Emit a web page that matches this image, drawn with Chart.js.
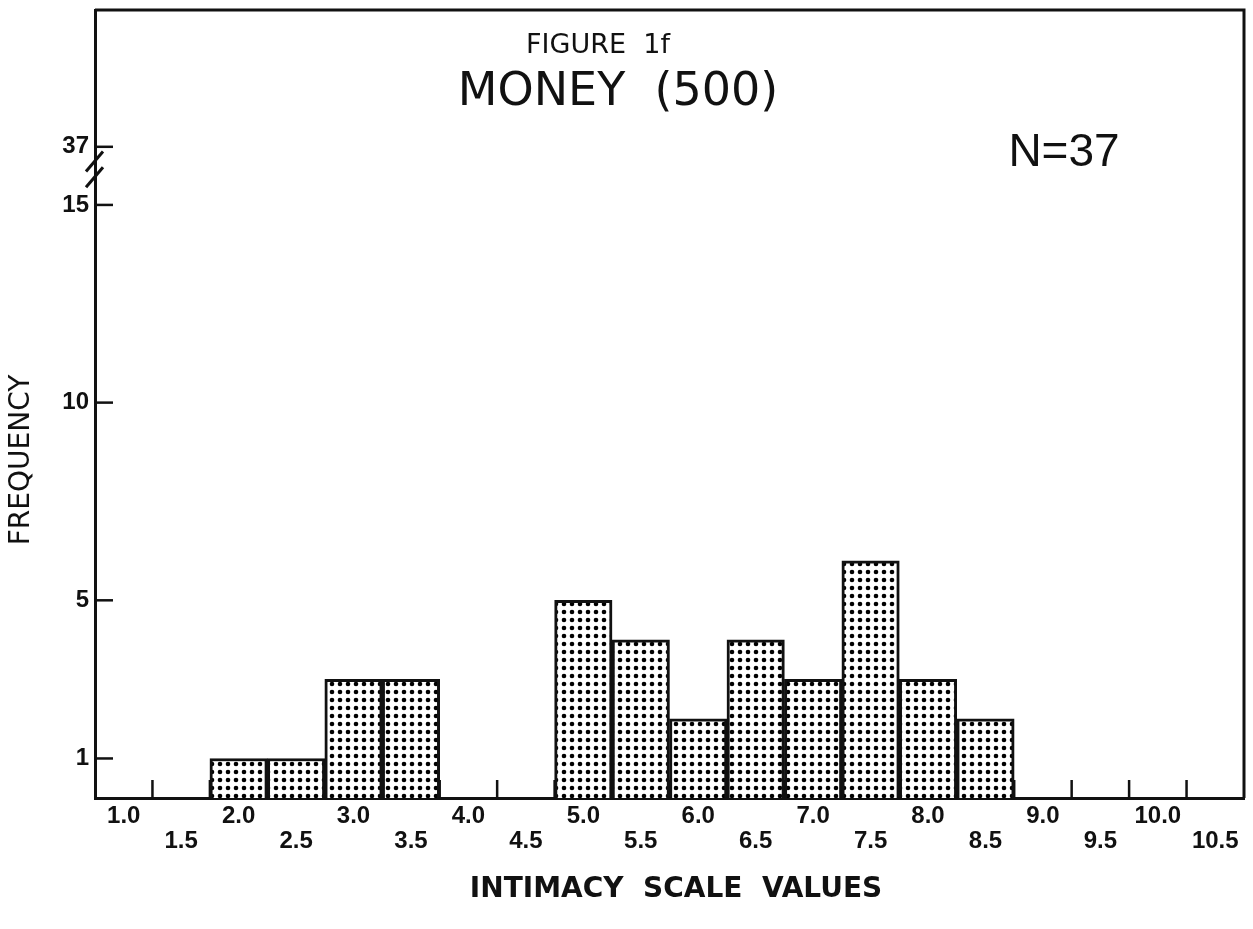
<!DOCTYPE html>
<html>
<head>
<meta charset="utf-8">
<script src="https://cdn.jsdelivr.net/npm/chart.js@4.4.1/dist/chart.umd.min.js"></script>
<style>
  html, body { margin: 0; padding: 0; background: #ffffff; }
  #wrap { width: 1253px; height: 929px; position: relative; }
</style>
</head>
<body>
<div id="wrap"><canvas id="c" width="1253" height="929"></canvas></div>
<script>
// ---- data ----
const categories = ['1.0','1.5','2.0','2.5','3.0','3.5','4.0','4.5','5.0','5.5','6.0','6.5','7.0','7.5','8.0','8.5','9.0','9.5','10.0','10.5'];
const frequency  = [0, 0, 1, 1, 3, 3, 0, 0, 5, 4, 2, 4, 3, 6, 3, 2, 0, 0, 0, 0];
const yTickValues = [1, 5, 10, 15, 16.47];
const yTickLabels = ['1', '5', '10', '15', '37'];
const titleLine1 = 'FIGURE  1f';
const titleLine2 = 'MONEY  (500)';
const nLabel = 'N=37';
const xTitle = 'INTIMACY  SCALE  VALUES';
const yTitle = 'FREQUENCY';
const yMax = 19.93;

// dotted screen pattern
function makePattern() {
  const p = document.createElement('canvas');
  p.width = 8; p.height = 8;
  const g = p.getContext('2d');
  g.fillStyle = '#ffffff';
  g.fillRect(0, 0, 8, 8);
  g.fillStyle = '#000000';
  g.beginPath();
  g.arc(4, 4, 2.3, 0, Math.PI * 2);
  g.fill();
  return g.createPattern(p, 'repeat');
}

const ink = '#111111';

const decor = {
  id: 'decor',
  beforeDatasetsDraw(chart) {
    const ctx = chart.ctx;
    const x = chart.scales.x, y = chart.scales.y;
    const ca = chart.chartArea;
    ctx.save();
    ctx.strokeStyle = ink;
    ctx.lineWidth = 2.5;
    // x tick marks at bin boundaries, pointing up
    const half = (x.getPixelForValue(1) - x.getPixelForValue(0)) / 2;
    for (let i = 1; i < categories.length; i++) {
      const px = x.getPixelForValue(i) - half;
      ctx.beginPath();
      ctx.moveTo(px, ca.bottom);
      ctx.lineTo(px, ca.bottom - 18);
      ctx.stroke();
    }
    // y tick marks pointing right
    yTickValues.forEach(v => {
      const py = y.getPixelForValue(v);
      ctx.beginPath();
      ctx.moveTo(ca.left, py);
      ctx.lineTo(ca.left + 18, py);
      ctx.stroke();
    });
    ctx.restore();
  },
  afterDraw(chart) {
    const ctx = chart.ctx;
    const ca = chart.chartArea;
    const y = chart.scales.y;
    ctx.save();
    // frame top and right
    ctx.strokeStyle = ink;
    ctx.lineWidth = 3;
    ctx.beginPath();
    ctx.moveTo(ca.left, ca.top);
    ctx.lineTo(ca.right, ca.top);
    ctx.lineTo(ca.right, ca.bottom);
    ctx.stroke();
    // axis break marks
    [16.1, 15.7].forEach(v => {
      const py = y.getPixelForValue(v);
      ctx.beginPath();
      ctx.moveTo(ca.left - 9, py + 10);
      ctx.lineTo(ca.left + 8, py - 10);
      ctx.stroke();
    });
    // texts
    ctx.fillStyle = ink;
    ctx.textAlign = 'center';
    ctx.textBaseline = 'middle';
    ctx.font = '500 27px "DejaVu Sans"';
    ctx.fillText(titleLine1, 598, 46);
    ctx.font = '46px "DejaVu Sans"';
    ctx.fillText(titleLine2, 618, 93);
    ctx.font = '46px "Liberation Sans"';
    ctx.fillText(nLabel, 1064, 153);
    ctx.font = 'bold 28px "DejaVu Sans"';
    ctx.fillText(xTitle, 676, 890);
    ctx.translate(22, 460);
    ctx.rotate(-Math.PI / 2);
    ctx.font = '28px "DejaVu Sans"';
    ctx.fillText(yTitle, 0, 0);
    ctx.restore();
  }
};

new Chart(document.getElementById('c'), {
  type: 'bar',
  data: {
    labels: categories,
    datasets: [{
      data: frequency,
      backgroundColor: makePattern(),
      borderColor: ink,
      borderWidth: 3,
      borderSkipped: 'bottom',
      barPercentage: 1,
      categoryPercentage: 1
    }]
  },
  options: {
    responsive: false,
    animation: false,
    devicePixelRatio: 1,
    layout: { padding: { top: 10, right: 9, left: 0, bottom: 0 } },
    plugins: { legend: { display: false }, tooltip: { enabled: false } },
    scales: {
      x: {
        grid: { display: false, drawTicks: false },
        border: { display: true, color: ink, width: 3 },
        ticks: {
          autoSkip: false, maxRotation: 0, minRotation: 0, padding: 6,
          color: ink,
          font: { family: 'Liberation Sans', weight: 'bold', size: 24, lineHeight: 1.05 },
          callback: (v, i) => (i % 2 === 0 ? [categories[i], ''] : ['', categories[i]])
        },
        afterFit: s => { s.height = 131; s.paddingLeft = 0; s.paddingRight = 0; }
      },
      y: {
        min: 0, max: yMax,
        grid: { display: false, drawTicks: false },
        border: { display: true, color: ink, width: 3 },
        afterBuildTicks: s => { s.ticks = yTickValues.map(v => ({ value: v })); },
        ticks: {
          padding: 6, color: ink,
          font: { family: 'Liberation Sans', weight: 'bold', size: 24 },
          callback: v => { const k = yTickValues.indexOf(v); return k >= 0 ? yTickLabels[k] : ''; }
        },
        afterFit: s => { s.width = 95; s.paddingTop = 0; s.paddingBottom = 0; }
      }
    }
  },
  plugins: [decor]
});
</script>
</body>
</html>
